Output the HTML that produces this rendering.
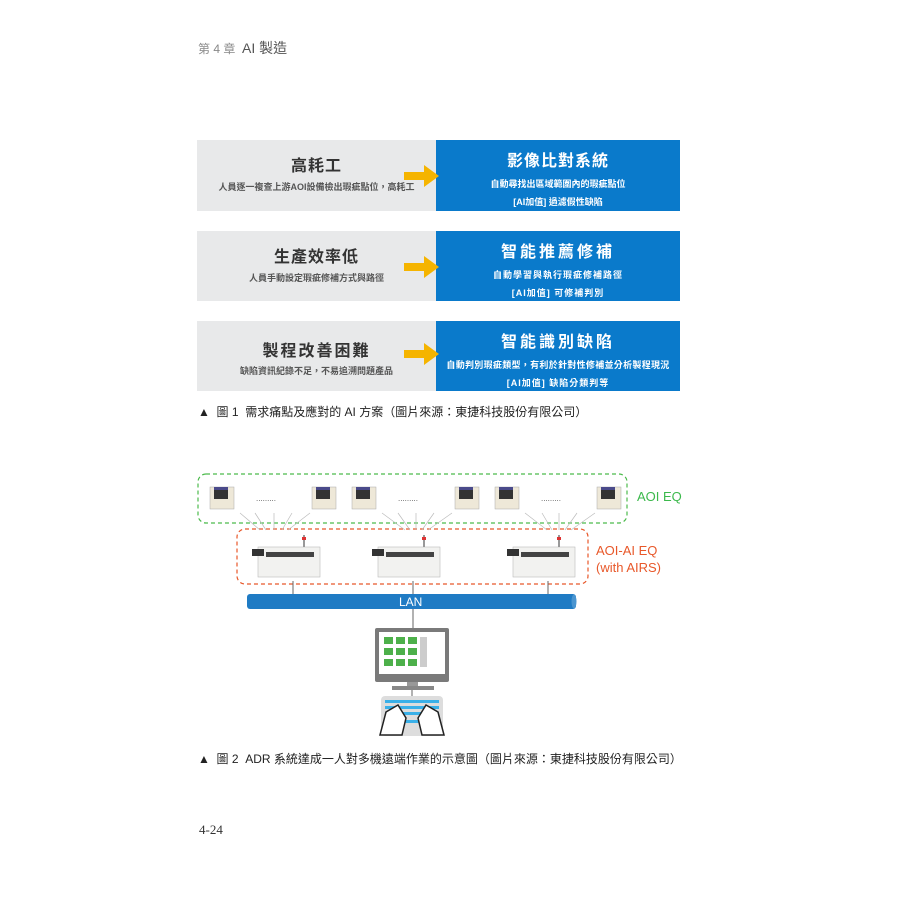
<!DOCTYPE html>
<html><head><meta charset="utf-8"><style>
body{margin:0;background:#fff;width:900px;height:900px;position:relative;overflow:hidden;font-family:"Liberation Sans","Noto Sans CJK TC",sans-serif}
.a{position:absolute}
.g{background:#e8e9ea;left:197px;width:239px;color:#333;text-align:center;overflow:hidden}
.b{background:#0a7acb;left:436px;width:244px;color:#fff;text-align:center;overflow:hidden}
.t1{font-size:16px;font-weight:bold;letter-spacing:1px;line-height:20px}
.t2{font-size:9px;font-weight:bold;line-height:12px}
</style></head><body>
<div class="a" style="left:198px;top:38px;font-size:12px;color:#888">第 4 章&nbsp;&nbsp;<span style="font-size:14px;color:#555">AI 製造</span></div>

<div class="a g" style="top:140px;height:71px"><div class="t1" style="margin-top:17px;color:#333">高耗工</div><div class="t2" style="margin-top:4px;color:#555">人員逐一複查上游AOI設備檢出瑕疵點位，高耗工</div></div>
<div class="a b" style="top:140px;height:71px"><div class="t1" style="margin-top:12px">影像比對系統</div><div class="t2" style="margin-top:6px">自動尋找出區域範圍內的瑕疵點位</div><div class="t2" style="margin-top:6px">[AI加值] 過濾假性缺陷</div></div>

<div class="a g" style="top:231px;height:70px"><div class="t1" style="margin-top:17px">生產效率低</div><div class="t2" style="margin-top:4px;color:#555">人員手動設定瑕疵修補方式與路徑</div></div>
<div class="a b" style="top:231px;height:70px"><div class="t1" style="margin-top:12px;letter-spacing:3px">智能推薦修補</div><div class="t2" style="margin-top:6px;letter-spacing:1px">自動學習與執行瑕疵修補路徑</div><div class="t2" style="margin-top:6px;letter-spacing:1px">[AI加值] 可修補判別</div></div>

<div class="a g" style="top:321px;height:70px"><div class="t1" style="margin-top:21px;letter-spacing:2px">製程改善困難</div><div class="t2" style="margin-top:3px;color:#555">缺陷資訊紀錄不足，不易追溯問題產品</div></div>
<div class="a b" style="top:321px;height:70px"><div class="t1" style="margin-top:12px;letter-spacing:3px">智能識別缺陷</div><div class="t2" style="margin-top:6px;letter-spacing:.3px">自動判別瑕疵類型，有利於針對性修補並分析製程現況</div><div class="t2" style="margin-top:6px;letter-spacing:1px">[AI加值] 缺陷分類判等</div></div>

<svg class="a" style="left:0;top:0" width="900" height="900">
<defs>
<g id="m"><rect x="0" y="0" width="24" height="22" fill="#eee8d8" stroke="#aaa" stroke-width=".5"/><rect x="4" y="3" width="14" height="9" fill="#333"/><rect x="4" y="0" width="14" height="3" fill="#4a4a8a"/></g>
<g id="M"><rect x="0" y="12" width="62" height="30" fill="#f2f2f0" stroke="#bbb" stroke-width=".6"/><rect x="-6" y="14" width="12" height="7" fill="#333"/><rect x="8" y="17" width="48" height="5" fill="#444"/><rect x="45" y="0" width="2" height="12" fill="#999"/><rect x="44" y="2" width="4" height="3" fill="#d33"/></g>
</defs>
<g fill="#f5b400">
<polygon points="404,172 424,172 424,165 439,176 424,187 424,180 404,180"/>
<polygon points="404,263 424,263 424,256 439,267 424,278 424,271 404,271"/>
<polygon points="404,350 424,350 424,343 439,354 424,365 424,358 404,358"/>
</g>
<rect x="198" y="474" width="429" height="49" rx="8" fill="none" stroke="#4cbb4c" stroke-dasharray="4,3" stroke-width="1.2"/>
<rect x="237" y="529" width="351" height="55" rx="8" fill="none" stroke="#e8582a" stroke-dasharray="4,3" stroke-width="1.2"/>
<g fill="#555" font-size="8">
<text x="256" y="501">.........</text><text x="398" y="501">.........</text><text x="541" y="501">.........</text>
</g>
<use href="#m" x="210" y="487"/><use href="#m" x="312" y="487"/><use href="#m" x="352" y="487"/><use href="#m" x="455" y="487"/><use href="#m" x="495" y="487"/><use href="#m" x="597" y="487"/>
<g stroke="#bbb" stroke-width=".7">
<line x1="240" y1="513" x2="260" y2="530"/><line x1="255" y1="513" x2="266" y2="530"/><line x1="274" y1="513" x2="274" y2="530"/><line x1="292" y1="513" x2="282" y2="530"/><line x1="310" y1="513" x2="288" y2="530"/>
<line x1="382" y1="513" x2="405" y2="530"/><line x1="398" y1="513" x2="410" y2="530"/><line x1="416" y1="513" x2="416" y2="530"/><line x1="434" y1="513" x2="422" y2="530"/><line x1="452" y1="513" x2="428" y2="530"/>
<line x1="525" y1="513" x2="547" y2="530"/><line x1="542" y1="513" x2="552" y2="530"/><line x1="559" y1="513" x2="559" y2="530"/><line x1="577" y1="513" x2="565" y2="530"/><line x1="595" y1="513" x2="571" y2="530"/>
</g>
<use href="#M" x="258" y="535"/><use href="#M" x="378" y="535"/><use href="#M" x="513" y="535"/>
<g stroke="#666" stroke-width="1"><line x1="293" y1="581" x2="293" y2="595"/><line x1="413" y1="581" x2="413" y2="595"/><line x1="548" y1="581" x2="548" y2="595"/><line x1="413" y1="609" x2="413" y2="629"/><line x1="412" y1="686" x2="412" y2="697"/></g>
<rect x="247" y="594" width="329" height="15" rx="3" fill="#1f7bc4"/>
<ellipse cx="574" cy="601.5" rx="2.5" ry="7" fill="#4a95d0"/>
<text x="399" y="606" fill="#fff" font-size="12">LAN</text>
<rect x="375" y="628" width="74" height="54" rx="2" fill="#7a7a7a"/>
<rect x="379" y="632" width="66" height="42" fill="#fff"/>
<g fill="#4db04a"><rect x="384" y="637" width="9" height="7"/><rect x="396" y="637" width="9" height="7"/><rect x="408" y="637" width="9" height="7"/><rect x="384" y="648" width="9" height="7"/><rect x="396" y="648" width="9" height="7"/><rect x="408" y="648" width="9" height="7"/><rect x="384" y="659" width="9" height="7"/><rect x="396" y="659" width="9" height="7"/><rect x="408" y="659" width="9" height="7"/></g>
<rect x="420" y="637" width="7" height="30" fill="#ccc"/>
<rect x="407" y="682" width="11" height="4" fill="#999"/><rect x="392" y="686" width="42" height="4" fill="#888"/>
<rect x="381" y="696" width="62" height="40" rx="4" fill="#ddd"/>
<g fill="#3ab0e8"><rect x="385" y="700" width="54" height="3"/><rect x="385" y="706" width="54" height="3"/><rect x="385" y="712" width="54" height="3"/><rect x="400" y="720" width="24" height="3"/></g>
<g fill="#fff" stroke="#222" stroke-width="1.5"><path d="M380 735 L386 712 L398 705 L406 718 L402 735Z"/><path d="M444 735 L438 712 L426 705 L418 718 L422 735Z"/></g>
</svg>
<div class="a" style="left:637px;top:489px;font-size:13px;color:#3cb94c">AOI EQ</div>
<div class="a" style="left:596px;top:542px;font-size:13px;color:#e8582a;line-height:17px">AOI-AI EQ<br>(with AIRS)</div>
<div class="a" style="left:198px;top:403px;font-size:12px;color:#222">▲&nbsp;&nbsp;圖 1&nbsp;&nbsp;需求痛點及應對的 AI 方案（圖片來源：東捷科技股份有限公司）</div>
<div class="a" style="left:198px;top:750px;font-size:12px;color:#222">▲&nbsp;&nbsp;圖 2&nbsp;&nbsp;ADR 系統達成一人對多機遠端作業的示意圖（圖片來源：東捷科技股份有限公司）</div>
<div class="a" style="left:199px;top:822px;font-size:13px;color:#333;font-family:'Liberation Serif',serif">4-24</div>
</body></html>
